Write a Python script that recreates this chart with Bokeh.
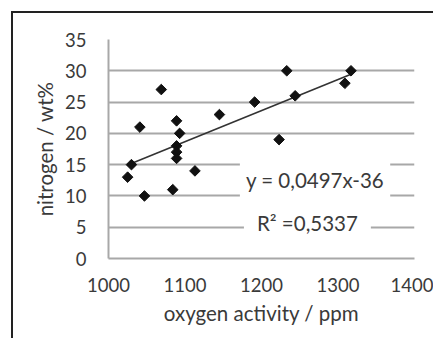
from bokeh.plotting import figure
from bokeh.models import Range1d, FixedTicker, Label, ColumnDataSource
from bokeh.embed import file_html
from bokeh.resources import INLINE
import math

# data
oxygen = [1025, 1030, 1041, 1047, 1069, 1084, 1089, 1093, 1089, 1089, 1089,
          1113, 1145, 1191, 1223, 1233, 1244, 1309, 1317]
nitrogen = [13, 15, 21, 10, 27, 11, 22, 20, 18, 17, 16,
            14, 23, 25, 19, 30, 26, 28, 30]
slope = 0.0497
intercept = -36
r2 = 0.5337
x_ticks = [1000, 1100, 1200, 1300, 1400]
y_ticks = [0, 5, 10, 15, 20, 25, 30, 35]

FONT = "Lato"
TXT = "#3a3a3a"
GRID = "#a8a8a8"

OFF_X, OFF_Y = 13, 13
p = figure(width=435 - OFF_X, height=340 - OFF_Y, output_backend="svg",
           toolbar_location=None,
           x_range=Range1d(1000, 1400), y_range=Range1d(0, 35),
           min_border_left=108 - OFF_X, min_border_right=21,
           min_border_top=39 - OFF_Y, min_border_bottom=82)
p.styles = {"margin-left": "11px", "margin-top": "11px",
            "border-left": "2px solid #222222", "border-top": "2px solid #222222"}
p.outline_line_color = None
p.background_fill_color = "white"
p.border_fill_color = "white"

p.xaxis.ticker = FixedTicker(ticks=x_ticks)
p.yaxis.ticker = FixedTicker(ticks=y_ticks)
p.xgrid.visible = False
p.ygrid.grid_line_color = GRID
p.ygrid.grid_line_width = 2
for ax in (p.xaxis, p.yaxis):
    ax.axis_line_color = GRID
    ax.axis_line_width = 2
    ax.major_tick_line_color = None
    ax.minor_tick_line_color = None
    ax.major_label_text_font = FONT
    ax.major_label_text_font_size = "18.5px"
    ax.major_label_text_color = TXT
    ax.axis_label_text_font = FONT
    ax.axis_label_text_font_size = "20.5px"
    ax.axis_label_text_color = TXT
    ax.axis_label_text_font_style = "normal"
p.xaxis.axis_label = "oxygen activity / ppm"
p.yaxis.axis_label = "nitrogen / wt%"
p.xaxis.major_label_standoff = 13
p.yaxis.major_label_standoff = 16
p.xaxis.axis_label_standoff = 6
p.yaxis.axis_label_standoff = 5

# trendline
xs = [min(oxygen), max(oxygen)]
ys = [slope * v + intercept for v in xs]
p.line(xs, ys, line_color="#333333", line_width=1.6)

src = ColumnDataSource(dict(x=oxygen, y=nitrogen))
p.scatter("x", "y", source=src, marker="square", angle=math.pi / 4, size=7.5,
          fill_color="#111111", line_color="#111111")

eq = Label(x=1270, y=12.6, text="y = 0,0497x-36", text_align="center",
           text_baseline="middle", text_font=FONT, text_font_size="20.5px",
           text_color=TXT, background_fill_color="white",
           padding=dict(left=6, right=6, top=7, bottom=7))
r2l = Label(x=1260, y=5.6, text="R\u00b2 =0,5337", text_align="center",
            text_baseline="middle", text_font=FONT, text_font_size="20.5px",
            text_color=TXT, background_fill_color="white",
            padding=dict(left=13, right=13, top=3, bottom=3))
p.add_layout(eq)
p.add_layout(r2l)

open("out.html", "w").write(file_html(p, INLINE))
